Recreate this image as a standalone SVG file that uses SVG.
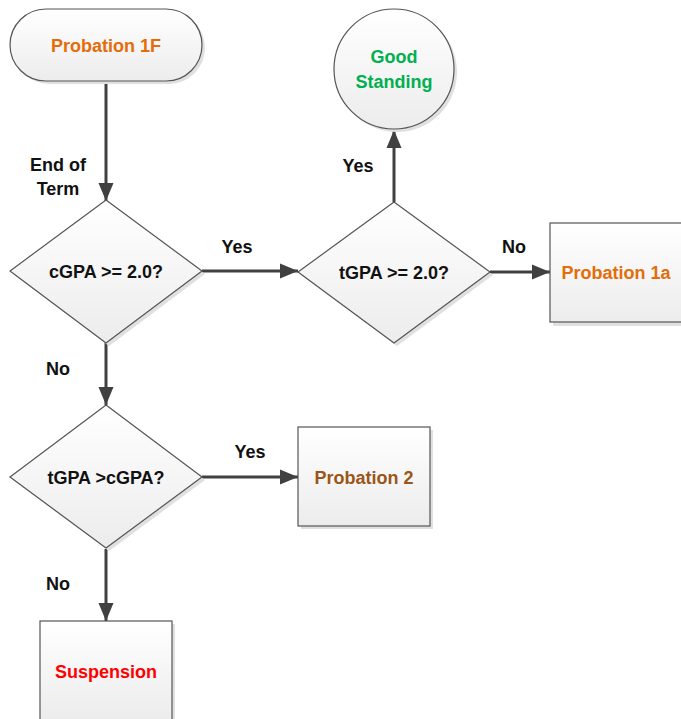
<svg xmlns="http://www.w3.org/2000/svg" width="681" height="719" viewBox="0 0 681 719">
<style>
.shape{fill:url(#g);stroke:#555;stroke-width:1.2}
.shadow{fill:#e0e0e0}
.conn{stroke:#404040;stroke-width:3;fill:none}
text{font-family:"Liberation Sans",Arial,sans-serif;font-weight:bold;font-size:18px;text-anchor:middle}
.lbl{fill:#111}
</style>
<defs>
<linearGradient id="g" x1="0" y1="0" x2="0" y2="1">
<stop offset="0" stop-color="#ffffff"/>
<stop offset="1" stop-color="#ececec"/>
</linearGradient>
<marker id="ah" markerUnits="userSpaceOnUse" markerWidth="18" markerHeight="18" viewBox="0 0 18 18" refX="18" refY="9" orient="auto">
<path d="M0,1.5 L18,9 L0,16.5 Z" fill="#404040"/>
</marker>
</defs>
<g id="connectors">
<line class="conn" x1="106" y1="81" x2="106" y2="201" marker-end="url(#ah)"/>
<line class="conn" x1="202" y1="271" x2="298" y2="271" marker-end="url(#ah)"/>
<line class="conn" x1="394" y1="202" x2="394" y2="130" marker-end="url(#ah)"/>
<line class="conn" x1="490" y1="272" x2="550" y2="272" marker-end="url(#ah)"/>
<line class="conn" x1="106" y1="343" x2="106" y2="405" marker-end="url(#ah)"/>
<line class="conn" x1="202" y1="477" x2="298" y2="477" marker-end="url(#ah)"/>
<line class="conn" x1="106" y1="549" x2="106" y2="621" marker-end="url(#ah)"/>
<text class="lbl" x="58" y="171">End of</text>
<text class="lbl" x="58" y="195">Term</text>
<text class="lbl" x="237" y="253">Yes</text>
<text class="lbl" x="358" y="172">Yes</text>
<text class="lbl" x="514" y="253">No</text>
<text class="lbl" x="58" y="375">No</text>
<text class="lbl" x="250" y="458">Yes</text>
<text class="lbl" x="58" y="590">No</text>
</g>
<g id="probation1F">
<rect class="shadow" x="13" y="12" width="192" height="72" rx="36"/>
<rect class="shape" x="10" y="9" width="192" height="72" rx="36"/>
<text x="106" y="52" fill="#E46C0A">Probation 1F</text>
</g>
<g id="goodStanding">
<circle class="shadow" cx="397" cy="72" r="60"/>
<circle class="shape" cx="394" cy="69" r="60"/>
<text x="394" y="63" fill="#00B050">Good</text>
<text x="394" y="88" fill="#00B050">Standing</text>
</g>
<g id="cgpaDecision">
<polygon class="shadow" points="109,203 205,274 109,346 13,274"/>
<polygon class="shape" points="106,200 202,271 106,343 10,271"/>
<text class="lbl" x="106" y="278">cGPA &gt;= 2.0?</text>
</g>
<g id="tgpaDecision">
<polygon class="shadow" points="397,205 493,275 397,346 301,275"/>
<polygon class="shape" points="394,202 490,272 394,343 298,272"/>
<text class="lbl" x="394" y="279">tGPA &gt;= 2.0?</text>
</g>
<g id="probation1a">
<rect class="shadow" x="553" y="226" width="132" height="100"/>
<rect class="shape" x="550" y="223" width="132" height="99"/>
<text x="616" y="279" fill="#E46C0A">Probation 1a</text>
</g>
<g id="tgpaGtCgpa">
<polygon class="shadow" points="109,408 205,480 109,551 13,480"/>
<polygon class="shape" points="106,405 202,477 106,548 10,477"/>
<text class="lbl" x="106" y="484">tGPA &gt;cGPA?</text>
</g>
<g id="probation2">
<rect class="shadow" x="301" y="430" width="132" height="99"/>
<rect class="shape" x="298" y="427" width="132" height="99"/>
<text x="364" y="484" fill="#9A5518">Probation 2</text>
</g>
<g id="suspension">
<rect class="shadow" x="43" y="624" width="132" height="100"/>
<rect class="shape" x="40" y="621" width="132" height="100"/>
<text x="106" y="678" fill="#FF0000">Suspension</text>
</g>
</svg>
